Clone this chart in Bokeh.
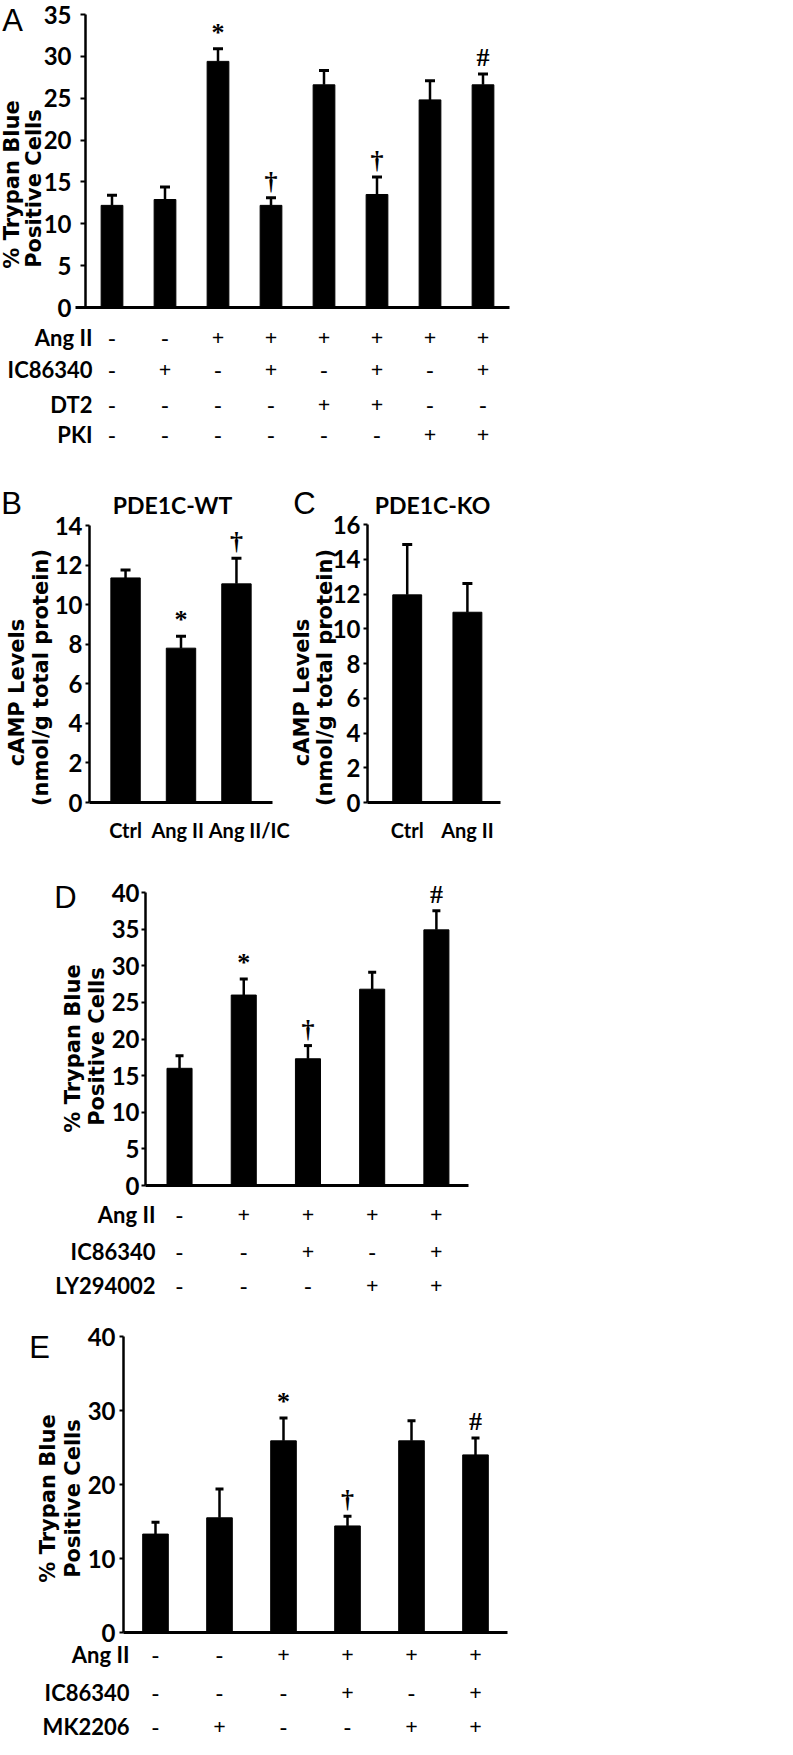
import math
from bokeh.plotting import figure
from bokeh.models import Range1d, FixedTicker, Label, LabelSet, ColumnDataSource, Whisker, TeeHead
from bokeh.layouts import column, row
from bokeh.embed import file_html
from bokeh.resources import INLINE

NARROW = "Lato"
WIDE = "DejaVu Sans"
LETTER = "Liberation Sans"

# ---------------- data ----------------
# Panel A
a_values = [12.2, 12.9, 29.4, 12.2, 26.6, 13.5, 24.8, 26.6]
a_errors = [1.2, 1.5, 1.5, 0.9, 1.7, 2.1, 2.3, 1.3]
a_marks = ["", "", "*", "†", "", "†", "", "#"]
a_row_names = ["Ang II", "IC86340", "DT2", "PKI"]
a_angii = ["-", "-", "+", "+", "+", "+", "+", "+"]
a_ic = ["-", "+", "-", "+", "-", "+", "-", "+"]
a_dt2 = ["-", "-", "-", "-", "+", "+", "-", "-"]
a_pki = ["-", "-", "-", "-", "-", "-", "+", "+"]
a_yticks = [0, 5, 10, 15, 20, 25, 30, 35]

# Panel B
b_categories = ["Ctrl", "Ang II", "Ang II/IC"]
b_values = [11.35, 7.8, 11.05]
b_errors = [0.4, 0.6, 1.3]
b_marks = ["", "*", "†"]
b_yticks = [0, 2, 4, 6, 8, 10, 12, 14]

# Panel C
c_categories = ["Ctrl", "Ang II"]
c_values = [11.95, 10.95]
c_errors = [2.9, 1.65]
c_marks = ["", ""]
c_yticks = [0, 2, 4, 6, 8, 10, 12, 14, 16]

# Panel D
d_values = [16.0, 26.0, 17.3, 26.8, 34.9]
d_errors = [1.7, 2.2, 1.8, 2.3, 2.6]
d_marks = ["", "*", "†", "", "#"]
d_row_names = ["Ang II", "IC86340", "LY294002"]
d_angii = ["-", "+", "+", "+", "+"]
d_ic = ["-", "-", "+", "-", "+"]
d_ly = ["-", "-", "-", "+", "+"]
d_yticks = [0, 5, 10, 15, 20, 25, 30, 35, 40]

# Panel E
e_values = [13.3, 15.5, 25.9, 14.4, 25.9, 24.0]
e_errors = [1.6, 3.9, 3.1, 1.3, 2.7, 2.3]
e_marks = ["", "", "*", "†", "", "#"]
e_row_names = ["Ang II", "IC86340", "MK2206"]
e_angii = ["-", "-", "+", "+", "+", "+"]
e_ic = ["-", "-", "-", "+", "-", "+"]
e_mk = ["-", "+", "-", "-", "+", "+"]
e_yticks = [0, 10, 20, 30, 40]

ytitle_trypan = ["% Trypan Blue", "Positive Cells"]
ytitle_camp = ["cAMP Levels", "(nmol/g total protein)"]


class Panel:
    """A figure whose frame fills the whole canvas; axes are drawn at fixed locations."""

    def __init__(self, left, top, width, height, xpx, xlim, ypx, ylim, yticks,
                 tick_out, standoff, xaxis_overhang=0.0):
        self.left, self.top = left, top
        self.sx = (xpx[1] - xpx[0]) / (xlim[1] - xlim[0])
        self.sy = (ypx[0] - ypx[1]) / (ylim[1] - ylim[0])
        self.x0 = xlim[0] - (xpx[0] - left) / self.sx
        self.y1 = ylim[1] + (ypx[1] - top) / self.sy
        p = figure(width=width, height=height,
                   x_range=Range1d(self.x0, self.x0 + width / self.sx),
                   y_range=Range1d(self.y1 - height / self.sy, self.y1),
                   output_backend="svg", toolbar_location=None, title=None,
                   min_border=0, min_border_left=0, min_border_right=0,
                   min_border_top=0, min_border_bottom=0)
        p.outline_line_color = None
        p.grid.visible = False
        p.background_fill_color = "white"
        p.border_fill_color = "white"
        ya = p.yaxis[0]
        ya.fixed_location = xlim[0]
        ya.bounds = ylim
        ya.ticker = FixedTicker(ticks=yticks)
        ya.minor_tick_line_color = None
        ya.major_tick_in = 0
        ya.major_tick_out = tick_out
        ya.major_tick_line_width = 2
        ya.axis_line_width = 2.5
        ya.axis_line_color = "black"
        ya.major_label_standoff = standoff
        ya.major_label_text_font = NARROW
        ya.major_label_text_font_style = "bold"
        ya.major_label_text_font_size = "24px"
        ya.major_label_text_color = "black"
        xa = p.xaxis[0]
        xa.fixed_location = ylim[0]
        xa.bounds = (xlim[0] - xaxis_overhang / self.sx, xlim[1])
        xa.axis_line_width = 3
        xa.axis_line_color = "black"
        xa.major_tick_line_color = None
        xa.minor_tick_line_color = None
        xa.ticker = FixedTicker(ticks=[])
        xa.major_label_text_color = None
        self.p = p

    def X(self, px):
        return self.x0 + (px - self.left) / self.sx

    def Y(self, py):
        return self.y1 - (py - self.top) / self.sy

    def text(self, px, py, txt, align="center", baseline="middle", font=NARROW,
             size="22px", style="bold", angle=0.0):
        self.p.add_layout(Label(x=self.X(px), y=self.Y(py), text=txt, angle=angle,
                                text_align=align, text_baseline=baseline, text_font=font,
                                text_font_size=size, text_font_style=style,
                                text_color="black"))

    def bars(self, values, errors, marks, width, cap):
        xs = [i + 1 for i in range(len(values))]
        src = ColumnDataSource(dict(x=xs, top=values,
                                    upper=[v + e for v, e in zip(values, errors)],
                                    lower=values, mark=marks))
        self.p.vbar(x="x", top="top", width=width, source=src,
                    fill_color="black", line_color="black")
        self.p.add_layout(Whisker(source=src, base="x", upper="upper", lower="lower",
                                  dimension="height", line_width=2.5, line_color="black",
                                  lower_head=None,
                                  upper_head=TeeHead(size=cap, line_width=3,
                                                     line_color="black")))
        self.p.add_layout(LabelSet(x="x", y="upper", text="mark", source=src,
                                   text_align="center", text_baseline="bottom", y_offset=2,
                                   text_font=NARROW, text_font_style="bold",
                                   text_font_size="26px", text_color="black"))
        self.xs = xs
        return xs

    def categories(self, cats, nudges, standoff, size):
        xa = self.p.xaxis[0]
        pos = [x + n for x, n in zip(self.xs, nudges)]
        xa.ticker = FixedTicker(ticks=pos)
        xa.major_label_overrides = {x: c for x, c in zip(pos, cats)}
        xa.major_label_standoff = standoff
        xa.major_label_text_font = NARROW
        xa.major_label_text_font_style = "bold"
        xa.major_label_text_font_size = size
        xa.major_label_text_color = "black"

    def table(self, row_names, rows, row_py, name_right_px):
        for name, signs, py in zip(row_names, rows, row_py):
            src = ColumnDataSource(dict(x=self.xs, y=[self.Y(py)] * len(self.xs), t=signs))
            self.p.add_layout(LabelSet(x="x", y="y", text="t", source=src,
                                       text_align="center", text_baseline="middle",
                                       text_font=NARROW, text_font_style="bold",
                                       text_font_size="22px", text_color="black"))
            self.text(name_right_px, py, name, align="right")

    def ytitle(self, lines, centers, size):
        for line, (px, py) in zip(lines, centers):
            self.text(px, py, line, font=WIDE, size=size, angle=math.pi / 2)

    def letter(self, px, py, txt):
        self.text(px, py, txt, font=LETTER, size="31px", style="normal")


# ---------------- Panel A ----------------
A = Panel(8, 8, 777, 455, (93, 517), (0.5, 8.5), (315, 22), (0, 35), a_yticks, 5, 9,
          xaxis_overhang=10)
A.bars(a_values, a_errors, a_marks, 0.41, 10)
A.table(a_row_names, [a_angii, a_ic, a_dt2, a_pki], [345, 377, 412, 442], 100)
A.ytitle(ytitle_trypan, [(19, 192), (41, 196)], "21px")
A.letter(20, 28, "A")

# ---------------- Panel B ----------------
B = Panel(8, 463, 290, 387, (97, 280), (0.35, 3.65), (810, 533), (0, 14), b_yticks, 4, 3)
B.bars(b_values, b_errors, b_marks, 0.53, 10)
B.categories(b_categories, [0, -0.06, 0.23], 9, "20px")
B.ytitle(ytitle_camp, [(24, 700), (48, 685)], "21px")
B.letter(19, 511, "B")
B.text(180, 512, "PDE1C-WT", size="23px")

# ---------------- Panel C ----------------
C = Panel(298, 463, 487, 387, (375, 508), (0.34, 2.55), (810, 532), (0, 16), c_yticks, 4, 3)
C.bars(c_values, c_errors, c_marks, 0.48, 10)
C.categories(c_categories, [0, 0], 9, "20px")
C.ytitle(ytitle_camp, [(309, 700), (332, 685)], "21px")
C.letter(312, 511, "C")
C.text(440, 512, "PDE1C-KO", size="23px")

# ---------------- Panel D ----------------
D = Panel(8, 850, 777, 460, (153, 476), (0.47, 5.5), (1193, 900), (0, 40), d_yticks, 4, 2)
D.bars(d_values, d_errors, d_marks, 0.39, 8)
D.table(d_row_names, [d_angii, d_ic, d_ly], [1222, 1259, 1293], 163)
D.ytitle(ytitle_trypan, [(80, 1056), (104, 1054)], "21px")
D.letter(73, 905, "D")

# ---------------- Panel E ----------------
E = Panel(8, 1310, 777, 437, (131, 515), (0.5, 6.5), (1640, 1344), (0, 40), e_yticks, 4, 4)
E.bars(e_values, e_errors, e_marks, 0.40, 8)
E.table(e_row_names, [e_angii, e_ic, e_mk], [1662, 1700, 1734], 137)
E.ytitle(ytitle_trypan, [(55, 1506), (80, 1506)], "21px")
E.letter(47, 1355, "E")

layout = column(A.p, row(B.p, C.p), D.p, E.p)
open("out.html", "w").write(file_html(layout, INLINE))
